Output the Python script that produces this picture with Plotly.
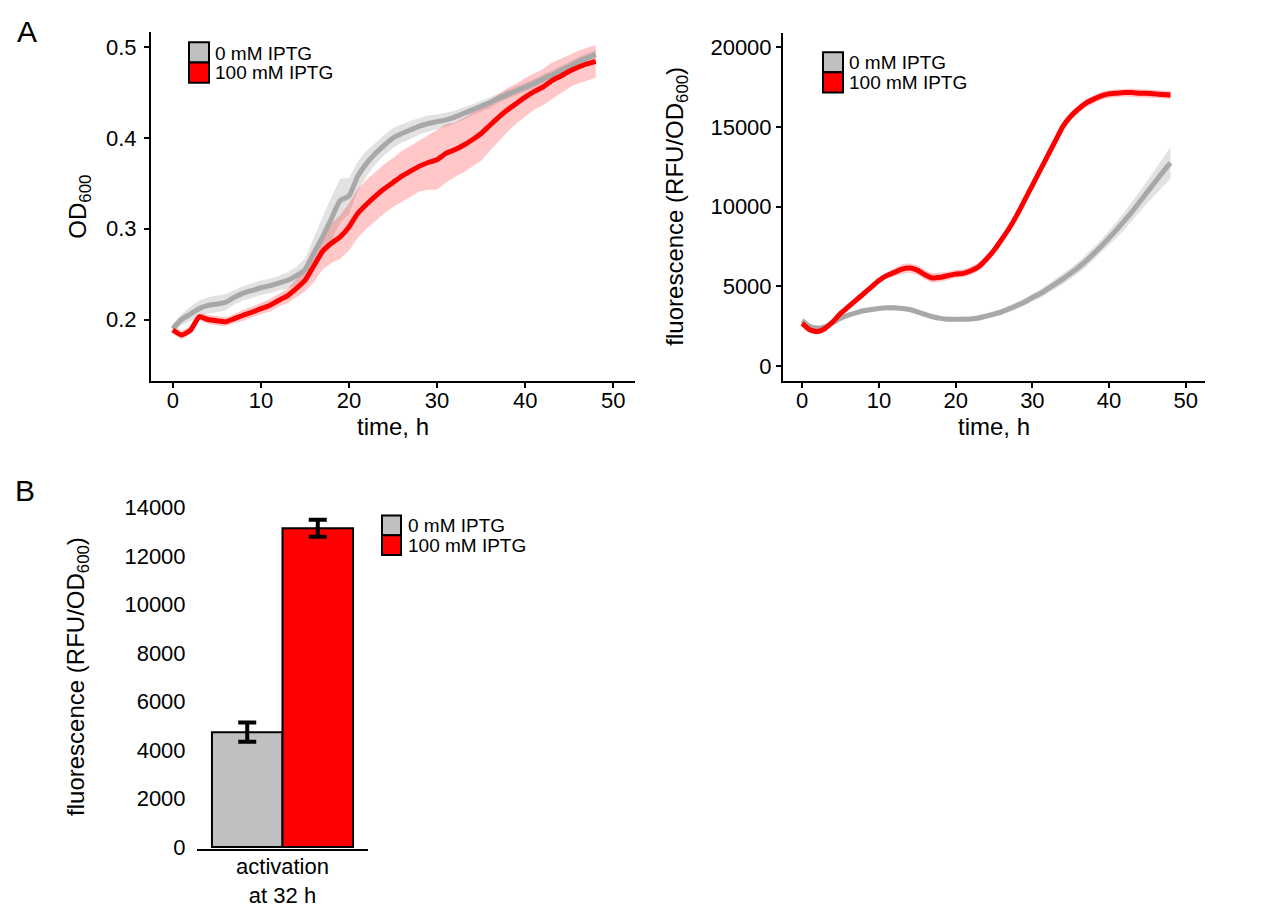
import plotly.graph_objects as go

# ---------------- data ----------------
time_h = list(range(0, 49))

od_0mM = [0.190, 0.200, 0.206, 0.212, 0.2155, 0.217, 0.219, 0.2245, 0.229, 0.232,
          0.235, 0.237, 0.240, 0.243, 0.248, 0.255, 0.273, 0.291, 0.311, 0.331,
          0.336, 0.358, 0.372, 0.383, 0.392, 0.400, 0.405, 0.409, 0.413, 0.416,
          0.418, 0.420, 0.423, 0.427, 0.431, 0.435, 0.439, 0.444, 0.448, 0.452,
          0.456, 0.460, 0.465, 0.469, 0.474, 0.479, 0.484, 0.488, 0.492]
od_0mM_err = [0.005, 0.006, 0.008, 0.009, 0.009, 0.009, 0.009, 0.008, 0.008, 0.008,
              0.008, 0.008, 0.008, 0.009, 0.010, 0.012, 0.018, 0.022, 0.024, 0.024,
              0.020, 0.016, 0.014, 0.012, 0.011, 0.011, 0.010, 0.010, 0.009, 0.009,
              0.008, 0.008, 0.007, 0.007, 0.006, 0.006, 0.006, 0.005, 0.005, 0.005,
              0.005, 0.005, 0.005, 0.005, 0.005, 0.005, 0.005, 0.005, 0.005]
od_100mM = [0.1885, 0.183, 0.188, 0.203, 0.200, 0.1986, 0.1975, 0.201, 0.2047, 0.208,
            0.212, 0.2155, 0.221, 0.226, 0.234, 0.243, 0.259, 0.275, 0.284, 0.291,
            0.302, 0.317, 0.327, 0.336, 0.344, 0.351, 0.358, 0.3635, 0.369, 0.373,
            0.376, 0.383, 0.387, 0.392, 0.398, 0.405, 0.414, 0.423, 0.431, 0.438,
            0.445, 0.451, 0.456, 0.463, 0.468, 0.4735, 0.478, 0.4816, 0.4845]
od_100mM_err = [0.004, 0.005, 0.004, 0.004, 0.005, 0.005, 0.005, 0.005, 0.006, 0.006,
                0.006, 0.007, 0.007, 0.008, 0.010, 0.012, 0.018, 0.020, 0.022, 0.024,
                0.026, 0.027, 0.027, 0.027, 0.027, 0.027, 0.028, 0.028, 0.028, 0.030,
                0.033, 0.032, 0.030, 0.030, 0.030, 0.030, 0.028, 0.026, 0.024, 0.022,
                0.021, 0.020, 0.020, 0.020, 0.019, 0.018, 0.018, 0.018, 0.018]

fl_0mM = [2845, 2475, 2370, 2475, 2720, 2990, 3195, 3340, 3465, 3545,
          3610, 3650, 3650, 3610, 3545, 3400, 3235, 3090, 2990, 2930,
          2930, 2930, 2950, 3010, 3135, 3260, 3400, 3590, 3795, 4020,
          4290, 4535, 4845, 5155, 5465, 5815, 6185, 6600, 7050, 7525,
          8040, 8560, 9115, 9690, 10310, 10930, 11550, 12165, 12740]
fl_0mM_err = [200, 150, 150, 150, 150, 150, 150, 150, 150, 150,
              150, 150, 150, 150, 150, 150, 150, 150, 150, 150,
              150, 150, 150, 160, 170, 180, 190, 200, 210, 220,
              240, 260, 280, 300, 320, 340, 360, 380, 400, 420,
              450, 500, 550, 600, 650, 700, 800, 900, 1000]
fl_100mM = [2680, 2270, 2165, 2370, 2780, 3300, 3710, 4125, 4535, 4950,
            5360, 5670, 5875, 6080, 6145, 6020, 5730, 5525, 5570, 5670,
            5775, 5815, 5980, 6225, 6700, 7260, 7940, 8660, 9485, 10410,
            11340, 12270, 13200, 14125, 15050, 15670, 16125, 16500, 16745, 16950,
            17075, 17115, 17155, 17155, 17115, 17115, 17075, 17030, 17010]
fl_100mM_err = [200, 200, 200, 200, 200, 200, 200, 200, 200, 200,
                200, 200, 250, 300, 300, 300, 300, 300, 300, 250,
                250, 250, 250, 250, 250, 250, 250, 250, 250, 250,
                250, 250, 250, 250, 250, 250, 250, 250, 250, 250,
                250, 250, 250, 250, 250, 250, 250, 250, 250]

bar_category = ["activation<br>at 32 h"]
bar_0mM = [4740]
bar_0mM_err = [400]
bar_100mM = [13150]
bar_100mM_err = [350]

series_names = ["0 mM IPTG", "100 mM IPTG"]

od_ticks = [0.2, 0.3, 0.4, 0.5]
fl_ticks = [0, 5000, 10000, 15000, 20000]
bar_ticks = [0, 2000, 4000, 6000, 8000, 10000, 12000, 14000]
time_ticks = [0, 10, 20, 30, 40, 50]

# ---------------- style ----------------
W, H = 1268, 908
YF = 1.014  # small vertical correction factor for layout pixel positions
FONT = "Liberation Sans, Arial, Helvetica, sans-serif"
GRAY_LINE = "#a8a8a8"
GRAY_BAND = "rgba(165,165,165,0.32)"
RED = "#ff0000"
RED_BAND = "rgba(255,0,0,0.22)"
GRAY_BAR = "#bfc0c2"
TITLE_SIZE = 24

def fy(y):
    return 1 - (y * YF) / H

def px(x0, x1):
    return [x0 / W, x1 / W]

def py(top, bottom):
    return [fy(bottom), fy(top)]

fig = go.Figure()

def band(x, y, e, color, xa, ya):
    up = [v + d for v, d in zip(y, e)]
    lo = [v - d for v, d in zip(y, e)]
    fig.add_trace(go.Scatter(x=x + x[::-1], y=up + lo[::-1], fill="toself",
                             fillcolor=color, line=dict(width=0), mode="lines",
                             hoverinfo="skip", showlegend=False, xaxis=xa, yaxis=ya))

def line(x, y, color, name, xa, ya):
    fig.add_trace(go.Scatter(x=x, y=y, mode="lines", name=name,
                             line=dict(color=color, width=5, shape="spline", smoothing=0.5),
                             showlegend=False, xaxis=xa, yaxis=ya))

# Panel A left (OD)
band(time_h, od_0mM, od_0mM_err, GRAY_BAND, "x", "y")
band(time_h, od_100mM, od_100mM_err, RED_BAND, "x", "y")
line(time_h, od_0mM, GRAY_LINE, series_names[0], "x", "y")
line(time_h, od_100mM, RED, series_names[1], "x", "y")

# Panel A right (fluorescence)
band(time_h, fl_0mM, fl_0mM_err, GRAY_BAND, "x2", "y2")
band(time_h, fl_100mM, fl_100mM_err, RED_BAND, "x2", "y2")
line(time_h, fl_0mM, GRAY_LINE, series_names[0], "x2", "y2")
line(time_h, fl_100mM, RED, series_names[1], "x2", "y2")

# Panel B bars
fig.add_trace(go.Bar(x=bar_category, y=bar_0mM, name=series_names[0],
                     marker=dict(color=GRAY_BAR, line=dict(color="black", width=2)),
                     error_y=dict(type="data", array=bar_0mM_err, color="black",
                                  thickness=4, width=9),
                     showlegend=False, xaxis="x3", yaxis="y3"))
fig.add_trace(go.Bar(x=bar_category, y=bar_100mM, name=series_names[1],
                     marker=dict(color=RED, line=dict(color="black", width=2)),
                     error_y=dict(type="data", array=bar_100mM_err, color="black",
                                  thickness=4, width=9),
                     showlegend=False, xaxis="x3", yaxis="y3"))

tickfont = dict(family=FONT, size=22, color="black")
common_axis = dict(showline=True, linecolor="black", linewidth=2, ticks="outside",
                   ticklen=5, tickwidth=1.5, tickcolor="black", showgrid=False,
                   zeroline=False, tickfont=tickfont, mirror=False)

fig.update_layout(
    width=W, height=H, margin=dict(l=0, r=0, t=0, b=0),
    paper_bgcolor="white", plot_bgcolor="white",
    font=dict(family=FONT, color="black"),
    bargap=0.175, barmode="group", bargroupgap=0,
    xaxis=dict(domain=px(151, 635), range=[-2.47, 52.46], tickvals=time_ticks,
               anchor="y", ticklabelstandoff=-6, **common_axis),
    yaxis=dict(domain=py(30, 385), range=[0.1325, 0.5173], tickvals=od_ticks,
               tickformat=".1f", anchor="x", ticklabelstandoff=3, **common_axis),
    xaxis2=dict(domain=px(783, 1205), range=[-2.5, 52.5], tickvals=time_ticks,
                anchor="y2", ticklabelstandoff=-6, **common_axis),
    yaxis2=dict(domain=py(32, 385), range=[-926, 20864], tickvals=fl_ticks,
                tickformat="d", anchor="x2", ticklabelstandoff=0, **common_axis),
    xaxis3=dict(domain=px(197, 368), anchor="y3", showline=True, linecolor="black",
                linewidth=2, ticks="", showgrid=False, zeroline=False,
                tickfont=tickfont, ticklabelstandoff=-3),
    yaxis3=dict(domain=py(504, 861), range=[-82, 14400], tickvals=bar_ticks,
                tickformat="d", anchor="x3", showline=False, ticks="outside", ticklen=6,
                tickcolor="rgba(0,0,0,0)", showgrid=False, zeroline=False,
                tickfont=tickfont, ticklabelstandoff=0),
)

def ann(text, x, y, size=22, angle=0, xanchor="center", yanchor="middle"):
    fig.add_annotation(text=text, x=x / W, y=fy(y), xref="paper", yref="paper",
                       showarrow=False, textangle=angle, xanchor=xanchor,
                       yanchor=yanchor, font=dict(family=FONT, size=size, color="black"))

# panel letters
ann("A", 27, 30, size=30)
ann("B", 25, 497, size=30)
# axis titles
ann("OD<sub>600</sub>", 80, 208, size=TITLE_SIZE, angle=-90)
ann("time, h", 393, 431, size=TITLE_SIZE)
ann("fluorescence (RFU/OD<sub>600</sub>)", 677, 208, size=TITLE_SIZE, angle=-90)
ann("time, h", 994, 431, size=TITLE_SIZE)
ann("fluorescence (RFU/OD<sub>600</sub>)", 78, 686, size=TITLE_SIZE, angle=-90)

# custom legends: stacked swatches with black outline
def legend(x0, y0, w, h, tx, ty1, ty2):
    fig.add_shape(type="rect", xref="paper", yref="paper",
                  x0=x0 / W, x1=(x0 + w) / W, y0=fy(y0 + h), y1=fy(y0),
                  fillcolor=GRAY_BAR, line=dict(color="black", width=2))
    fig.add_shape(type="rect", xref="paper", yref="paper",
                  x0=x0 / W, x1=(x0 + w) / W, y0=fy(y0 + 2 * h), y1=fy(y0 + h),
                  fillcolor=RED, line=dict(color="black", width=2))
    ann(series_names[0], tx, ty1, size=19, xanchor="left")
    ann(series_names[1], tx, ty2, size=19, xanchor="left")

legend(189, 41, 20, 20.5, 213, 52, 72)
legend(823, 51, 20, 20.5, 847, 62, 82)
legend(382, 522, 19, 20, 406, 532, 552)

post = """
document.documentElement.style.margin='0';
document.body.style.margin='0';
document.body.style.overflow='hidden';
"""

fig.write_html("out.html", config={"displayModeBar": False}, post_script=post)
